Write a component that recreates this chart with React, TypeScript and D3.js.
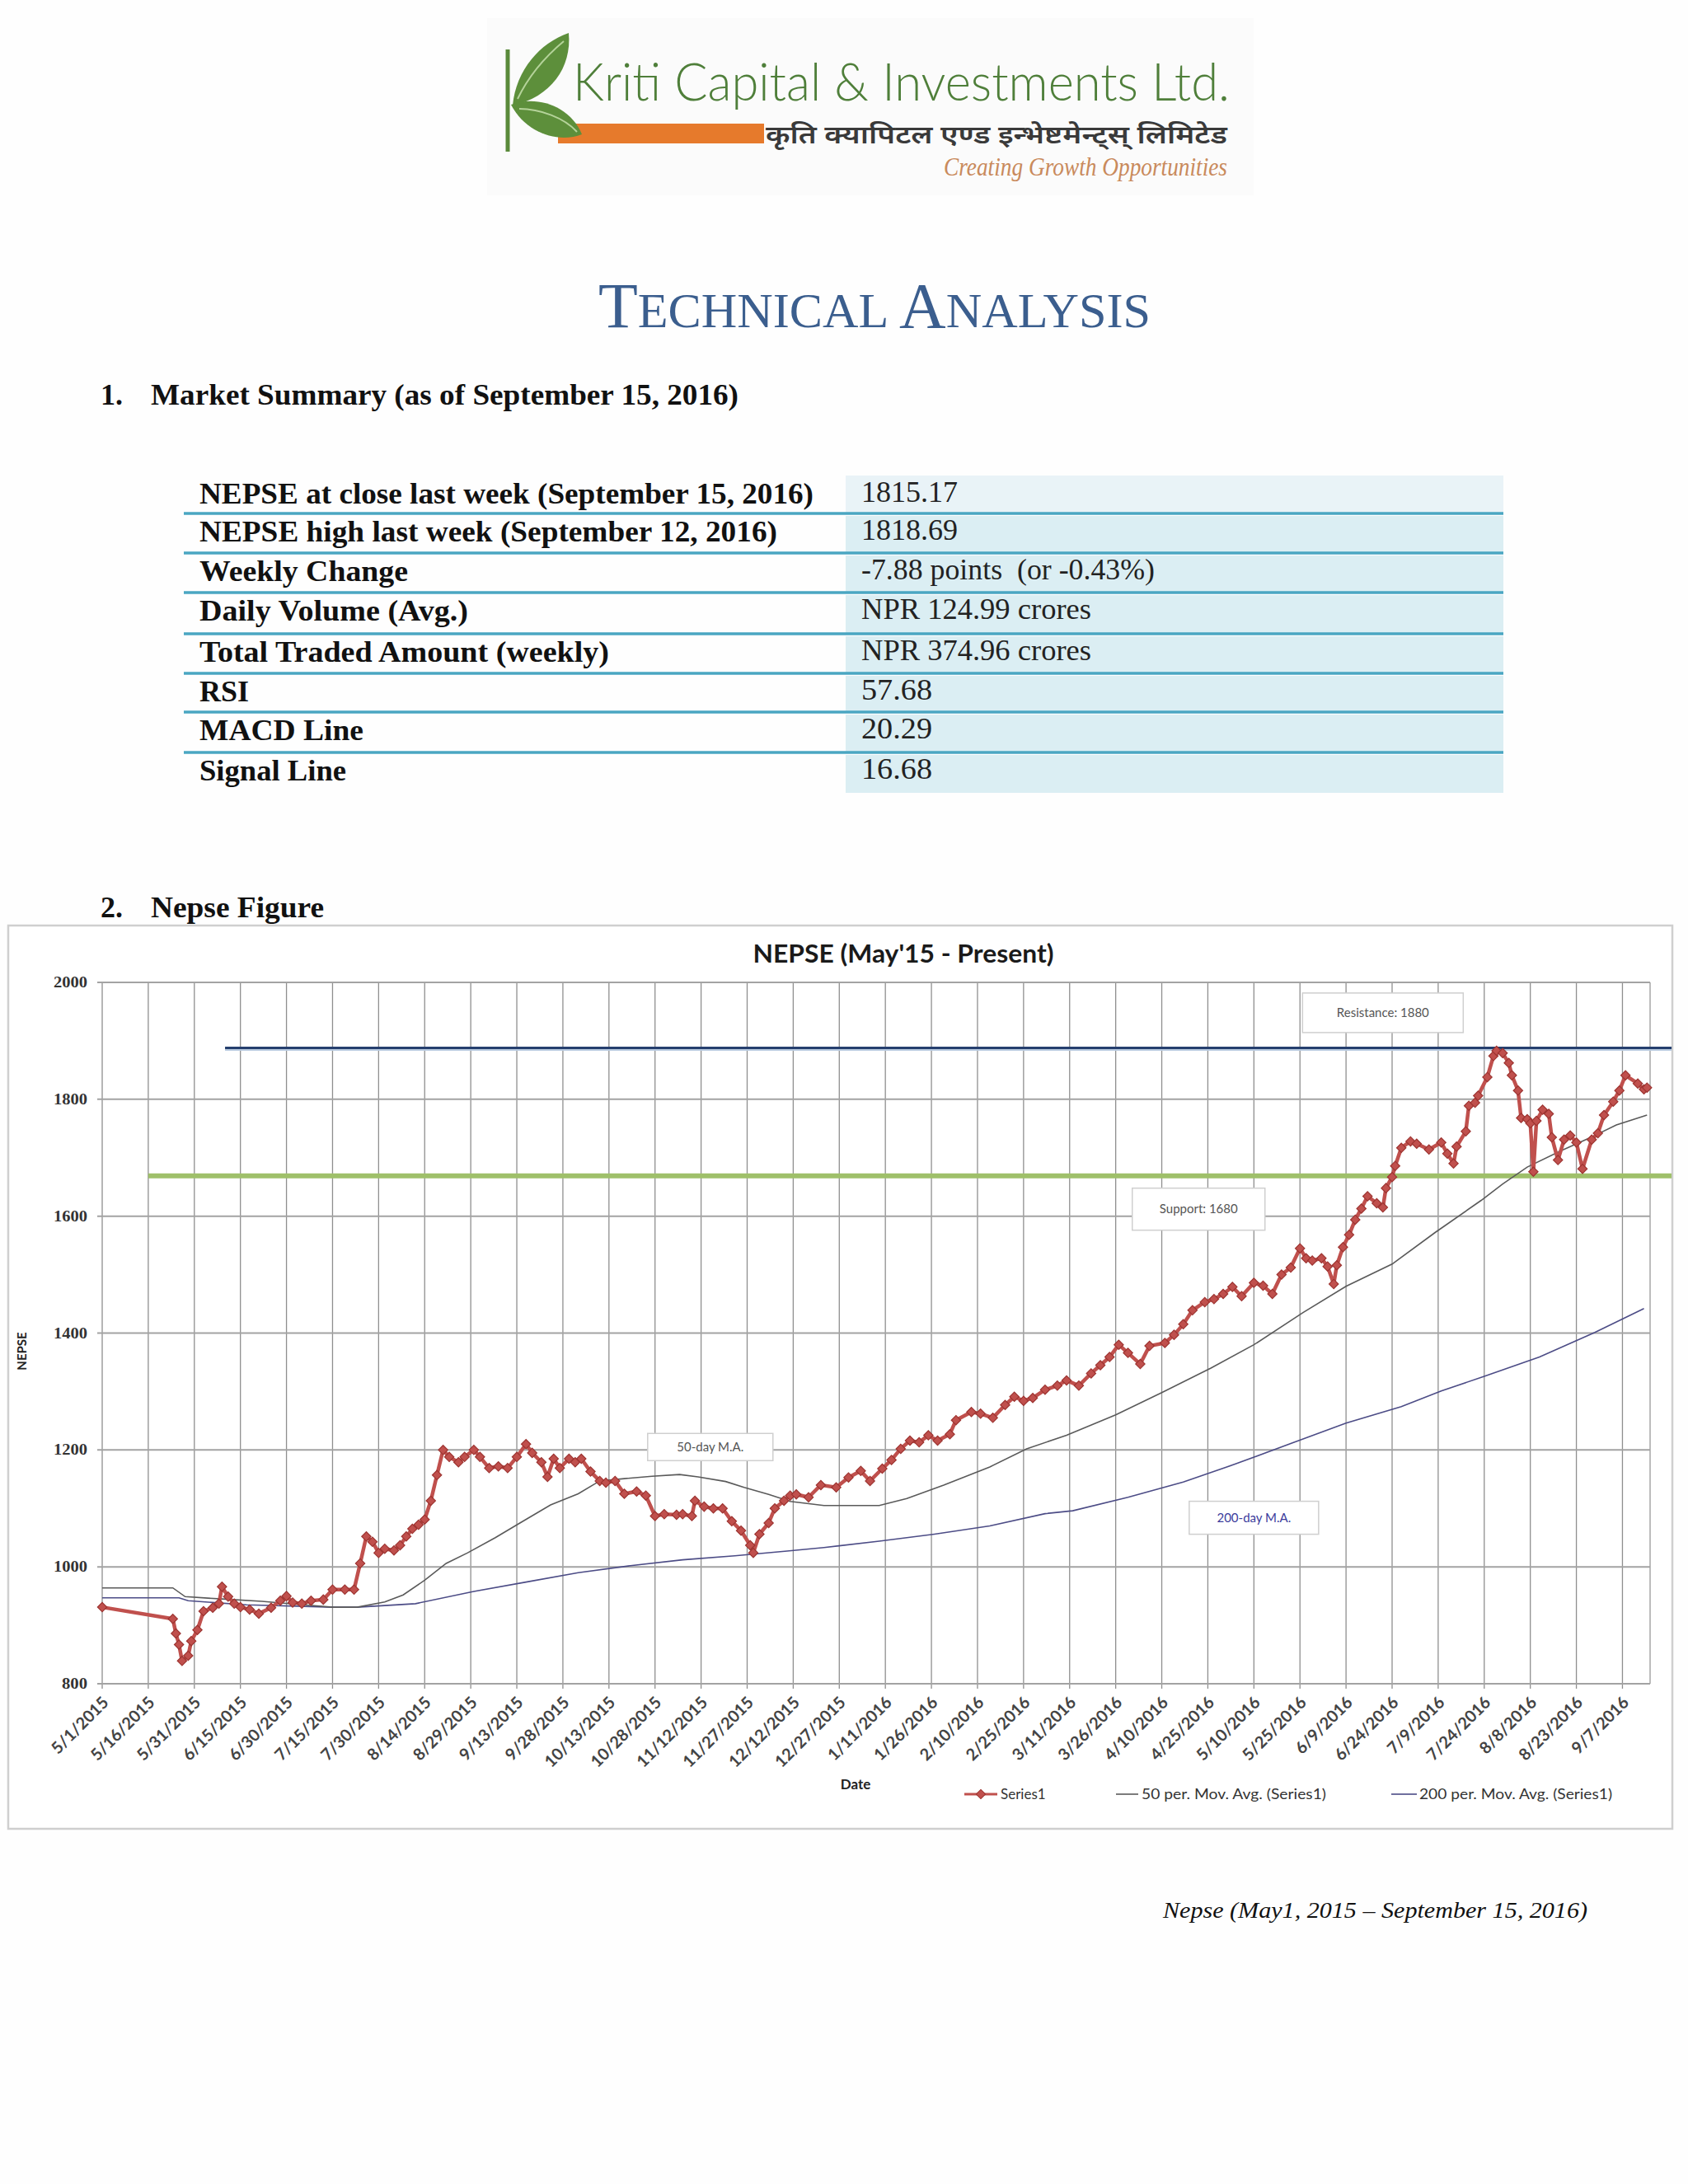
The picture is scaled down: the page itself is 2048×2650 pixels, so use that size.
import React from "react";
import * as d3 from "d3";

// ---------------- DATA ----------------
const startDate = "5/1/2015";
const endDate = "9/16/2016";

// NEPSE daily close (Series1): day offset from 5/1/2015, value
const seriesDays = [0, 23, 24, 25, 26, 28, 29, 31, 33, 36, 38, 39, 41, 43, 45, 48, 51, 55, 58, 60, 62, 65, 68, 72, 75, 79, 82, 84, 86, 88, 90, 92, 95, 97, 99, 101, 103, 105, 107, 109, 111, 113, 116, 118, 121, 123, 126, 129, 132, 135, 138, 140, 143, 145, 147, 149, 152, 154, 156, 159, 162, 164, 167, 170, 174, 177, 180, 183, 187, 189, 192, 193, 196, 199, 202, 205, 208, 211, 212, 214, 217, 219, 222, 224, 226, 230, 234, 239, 243, 247, 250, 254, 257, 260, 263, 266, 269, 272, 276, 278, 283, 286, 290, 294, 297, 300, 303, 307, 311, 314, 318, 322, 325, 328, 331, 334, 338, 341, 346, 349, 352, 355, 359, 362, 365, 368, 371, 375, 378, 381, 384, 387, 390, 392, 394, 397, 399, 401, 402, 404, 406, 408, 410, 412, 415, 417, 418, 420, 421, 423, 426, 428, 432, 436, 438, 440, 441, 444, 445, 447, 448, 451, 453, 454, 456, 458, 459, 461, 462, 464, 465, 466, 467, 469, 471, 472, 474, 476, 478, 480, 482, 485, 487, 489, 492, 494, 496, 500, 502, 503];
const seriesValues = [931, 911, 886, 867, 839, 848, 873, 892, 924, 930, 937, 966, 949, 937, 931, 927, 920, 930, 942, 950, 939, 937, 942, 944, 961, 961, 961, 1006, 1052, 1043, 1024, 1031, 1028, 1037, 1052, 1065, 1072, 1081, 1113, 1157, 1200, 1188, 1179, 1188, 1200, 1188, 1169, 1172, 1169, 1188, 1210, 1195, 1179, 1154, 1185, 1169, 1185, 1179, 1185, 1163, 1147, 1144, 1147, 1125, 1129, 1122, 1087, 1090, 1089, 1090, 1087, 1113, 1103, 1100, 1100, 1078, 1062, 1037, 1024, 1056, 1075, 1100, 1113, 1122, 1124, 1119, 1140, 1136, 1153, 1164, 1147, 1168, 1183, 1202, 1216, 1213, 1225, 1216, 1227, 1251, 1265, 1262, 1255, 1277, 1291, 1284, 1289, 1303, 1310, 1319, 1310, 1331, 1345, 1359, 1380, 1366, 1347, 1378, 1383, 1397, 1415, 1439, 1453, 1458, 1467, 1479, 1463, 1486, 1481, 1467, 1500, 1512, 1545, 1528, 1524, 1528, 1514, 1484, 1516, 1547, 1568, 1594, 1613, 1634, 1622, 1615, 1648, 1667, 1686, 1717, 1728, 1724, 1714, 1726, 1707, 1690, 1719, 1745, 1789, 1794, 1806, 1838, 1874, 1883, 1879, 1862, 1841, 1815, 1768, 1766, 1759, 1676, 1763, 1782, 1775, 1735, 1696, 1731, 1738, 1726, 1681, 1731, 1742, 1773, 1796, 1815, 1841, 1827, 1817, 1820, 1815];

// 50 per. Mov. Avg. (Series1)
const ma50Days = [0, 23, 27, 39, 52, 63, 75, 83, 92, 98, 105, 112, 119, 128, 136, 146, 155, 162, 170, 179, 188, 194, 203, 209, 217, 224, 235, 253, 262, 274, 289, 301, 314, 330, 345, 361, 375, 391, 405, 420, 434, 449, 456, 464, 475, 484, 493, 503];
const ma50Values = [964, 964, 949, 945, 941, 936, 931, 931, 940, 952, 977, 1006, 1024, 1050, 1075, 1106, 1125, 1147, 1151, 1155, 1158, 1154, 1146, 1136, 1124, 1112, 1105, 1105, 1117, 1140, 1171, 1202, 1225, 1260, 1298, 1340, 1380, 1435, 1480, 1518, 1572, 1627, 1655, 1684, 1712, 1733, 1756, 1773];

// 200 per. Mov. Avg. (Series1)
const ma200Days = [0, 25, 28, 47, 75, 83, 102, 121, 138, 155, 172, 189, 206, 223, 235, 253, 271, 289, 307, 316, 334, 352, 369, 387, 405, 423, 436, 450, 468, 486, 502];
const ma200Values = [947, 947, 942, 935, 931, 931, 937, 958, 974, 990, 1002, 1012, 1019, 1027, 1033, 1044, 1056, 1070, 1091, 1096, 1119, 1145, 1176, 1211, 1246, 1274, 1301, 1326, 1359, 1401, 1442];

const xTickLabels = ["5/1/2015", "5/16/2015", "5/31/2015", "6/15/2015", "6/30/2015", "7/15/2015", "7/30/2015", "8/14/2015", "8/29/2015", "9/13/2015", "9/28/2015", "10/13/2015", "10/28/2015", "11/12/2015", "11/27/2015", "12/12/2015", "12/27/2015", "1/11/2016", "1/26/2016", "2/10/2016", "2/25/2016", "3/11/2016", "3/26/2016", "4/10/2016", "4/25/2016", "5/10/2016", "5/25/2016", "6/9/2016", "6/24/2016", "7/9/2016", "7/24/2016", "8/8/2016", "8/23/2016", "9/7/2016"];
const yTicks = [800, 1000, 1200, 1400, 1600, 1800, 2000];

// resistance / support lines (drawn level, start date, end date)
const resistanceLevel = 1888;
const resistanceStart = "6/10/2015";
const supportLevel = 1669;
const supportStart = "5/16/2015";
const levelLineEnd = "9/23/2016";

// annotation boxes: text, center date, center value
const annoTexts = ["Resistance: 1880", "Support: 1680", "50-day M.A.", "200-day M.A."];
const annoDates = ["6/21/2016", "4/22/2016", "11/15/2015", "5/10/2016"];
const annoValues = [1948, 1612, 1205, 1084];
const annoColors = ["#555555", "#555555", "#555555", "#3c3c9c"];

const tableLabels = ["NEPSE at close last week (September 15, 2016)", "NEPSE high last week (September 12, 2016)", "Weekly Change", "Daily Volume (Avg.)", "Total Traded Amount (weekly)", "RSI", "MACD Line", "Signal Line"];
const tableValues = ["1815.17", "1818.69", "-7.88 points  (or -0.43%)", "NPR 124.99 crores", "NPR 374.96 crores", "57.68", "20.29", "16.68"];

// ---------------- LAYOUT ----------------
const W = 2048;
const H = 2650;
const plot = { left: 124, right: 2002, top: 1192, bottom: 2043 };
const frame = { x: 10, y: 1123, w: 2019, h: 1096 };
const RED = "#c0504d";
const SERIF = "'Liberation Serif', 'Times New Roman', serif";
const SANS = "Lato, 'Open Sans', sans-serif";

const parse = d3.timeParse("%m/%d/%Y");

// measured text widths of table labels (layout)
const labelWidths = [745, 701, 253, 326, 497, 60, 199, 178];
const valueWidths = [117, 117, 356, 279, 279, 86, 86, 86];

export default function App() {
  const t0 = parse(startDate)!;
  const x = d3.scaleTime().domain([t0, parse(endDate)!]).range([plot.left, plot.right]);
  const y = d3.scaleLinear().domain([800, 2000]).range([plot.bottom, plot.top]);
  const dayDate = (d: number) => d3.timeDay.offset(t0, d);

  const series = seriesDays.map((d, i) => ({ date: dayDate(d), v: seriesValues[i] }));
  const ma50 = ma50Days.map((d, i) => ({ date: dayDate(d), v: ma50Values[i] }));
  const ma200 = ma200Days.map((d, i) => ({ date: dayDate(d), v: ma200Values[i] }));
  const line = d3.line<{ date: Date; v: number }>().x((d) => x(d.date)).y((d) => y(d.v));
  const diamond = d3.symbol().type(d3.symbolSquare).size(64)()!;
  const ticks = xTickLabels.map((s) => ({ s, date: parse(s)! }));

  const boxW = [195, 161, 152, 157];
  const boxH = [48, 51, 33, 40];

  const rowTop = [577, 623, 671, 719, 769, 817, 864, 913];
  const rowBottom = 962;

  return (
    <svg width={W} height={H} style={{ position: "absolute", left: 0, top: 0, background: "#fff" }}>
      <rect x={0} y={0} width={W} height={H} fill="#fefefe" />

      {/* ---------- Logo ---------- */}
      <g>
        <rect x={591} y={22} width={930} height={215} fill="#fbfbfb" />
        <line x1={616} y1={60} x2={616} y2={184} stroke="#5a8a3b" strokeWidth={5} />
        <path d="M622,128 C626,85 655,52 690,40 C694,82 668,118 622,128 Z" fill="#5d8f3b" />
        <path d="M628,120 C640,95 660,70 684,50" fill="none" stroke="#b5d39a" strokeWidth={2} />
        <rect x={677} y={150} width={250} height={24} fill="#e67a2c" />
        <path d="M620,127 C650,115 692,128 706,163 C678,174 638,162 620,127 Z" fill="#5d8f3b" />
        <path d="M630,132 C655,132 685,143 700,160" fill="none" stroke="#b5d39a" strokeWidth={2} />
        <text x={695} y={122} fontFamily={SANS} fontWeight={300} fontSize={64} fill="#4f7f3a" textLength={797} lengthAdjust="spacingAndGlyphs">
          Kriti Capital &amp; Investments Ltd.
        </text>
        <text x={929} y={174} fontFamily="'Noto Sans', sans-serif" fontSize={30} fontWeight={600} fill="#3a3a3a" textLength={560} lengthAdjust="spacingAndGlyphs">
          कृति क्यापिटल एण्ड इन्भेष्टमेन्ट्स् लिमिटेड
        </text>
        <text x={1145} y={213} fontFamily={SERIF} fontStyle="italic" fontSize={32} fill="#c98a5c" textLength={344} lengthAdjust="spacingAndGlyphs">
          Creating Growth Opportunities
        </text>
      </g>

      {/* ---------- Title ---------- */}
      <text x={726} y={397} fontFamily={SERIF} fill="#3b5e8e" textLength={670} lengthAdjust="spacingAndGlyphs">
        <tspan fontSize={78}>T</tspan>
        <tspan fontSize={60}>ECHNICAL </tspan>
        <tspan fontSize={78}>A</tspan>
        <tspan fontSize={60}>NALYSIS</tspan>
      </text>

      <text x={122} y={491} fontFamily={SERIF} fontWeight="bold" fontSize={36} fill="#111">1.</text>
      <text x={183} y={491} fontFamily={SERIF} fontWeight="bold" fontSize={36} fill="#111" textLength={713} lengthAdjust="spacingAndGlyphs">
        Market Summary (as of September 15, 2016)
      </text>

      {/* ---------- Table ---------- */}
      <g>
        {rowTop.map((t, i) => (
          <rect key={"sh" + i} x={1026} y={t + (i === 0 ? 0 : 3)} width={798} height={(i < rowTop.length - 1 ? rowTop[i + 1] : rowBottom) - t - (i === 0 ? 0 : 3)} fill={i === 0 ? "#e9f3f7" : "#dbeef3"} />
        ))}
        {rowTop.slice(1).map((t, i) => (
          <line key={"sep" + i} x1={223} x2={1824} y1={t} y2={t} stroke="#4aa6c2" strokeWidth={3.5} />
        ))}
        {tableLabels.map((s, i) => (
          <text key={"l" + i} x={242} y={rowTop[i] + 34} fontFamily={SERIF} fontWeight="bold" fontSize={36} fill="#111" textLength={labelWidths[i]} lengthAdjust="spacingAndGlyphs">
            {s}
          </text>
        ))}
        {tableValues.map((s, i) => (
          <text key={"v" + i} x={1045} y={rowTop[i] + 32} fontFamily={SERIF} fontSize={36} fill="#222" textLength={valueWidths[i]} lengthAdjust="spacingAndGlyphs" style={{ whiteSpace: "pre" }}>
            {s}
          </text>
        ))}
      </g>

      <text x={122} y={1113} fontFamily={SERIF} fontWeight="bold" fontSize={36} fill="#111">2.</text>
      <text x={183} y={1113} fontFamily={SERIF} fontWeight="bold" fontSize={36} fill="#111" textLength={210} lengthAdjust="spacingAndGlyphs">Nepse Figure</text>

      {/* ---------- Chart frame ---------- */}
      <rect x={frame.x} y={frame.y} width={frame.w} height={frame.h} fill="#fff" stroke="#cfcfcf" strokeWidth={2.5} />

      <text x={1096} y={1168} textAnchor="middle" fontFamily={SANS} fontWeight="bold" fontSize={30} fill="#1a1a1a" textLength={365} lengthAdjust="spacingAndGlyphs">
        NEPSE (May'15 - Present)
      </text>

      {/* gridlines */}
      {ticks.map((t, i) => (
        <line key={"vg" + i} x1={x(t.date)} x2={x(t.date)} y1={plot.top} y2={plot.bottom + 6} stroke="#8f8f8f" strokeWidth={1.3} />
      ))}
      <line x1={plot.right} x2={plot.right} y1={plot.top} y2={plot.bottom} stroke="#9a9a9a" strokeWidth={1.3} />
      {yTicks.map((v) => (
        <line key={"hg" + v} x1={plot.left - 6} x2={plot.right} y1={y(v)} y2={y(v)} stroke="#a3a3a3" strokeWidth={2} />
      ))}

      {/* y labels */}
      {yTicks.map((v) => (
        <text key={"yl" + v} x={106} y={y(v) + 6} textAnchor="end" fontFamily={SERIF} fontWeight="bold" fontSize={18} fill="#333" textLength={v >= 1000 ? 41 : 31} lengthAdjust="spacingAndGlyphs">
          {v}
        </text>
      ))}
      <text transform={`translate(32,${(plot.top + plot.bottom) / 2 + 22}) rotate(-90)`} textAnchor="middle" fontFamily={SANS} fontWeight="bold" fontSize={15} fill="#222">
        NEPSE
      </text>

      {/* x labels */}
      {ticks.map((t, i) => (
        <text key={"xl" + i} transform={`translate(${x(t.date) + 9},${plot.bottom + 24}) rotate(-45)`} textAnchor="end" fontFamily={SANS} fontWeight="bold" fontSize={20} fill="#444">
          {t.s}
        </text>
      ))}
      <text x={1038} y={2171} textAnchor="middle" fontFamily={SANS} fontWeight="bold" fontSize={17} fill="#222">Date</text>

      {/* support / resistance */}
      <line x1={x(parse(supportStart)!)} x2={x(parse(levelLineEnd)!)} y1={y(supportLevel)} y2={y(supportLevel)} stroke="#9fc06a" strokeWidth={6} />
      <line x1={x(parse(resistanceStart)!)} x2={x(parse(levelLineEnd)!)} y1={y(resistanceLevel) + 2} y2={y(resistanceLevel) + 2} stroke="#b9cbe0" strokeWidth={3} />
      <line x1={x(parse(resistanceStart)!)} x2={x(parse(levelLineEnd)!)} y1={y(resistanceLevel)} y2={y(resistanceLevel)} stroke="#253f6e" strokeWidth={3} />

      {/* moving averages */}
      <path d={line(ma200)!} fill="none" stroke="#4c4c86" strokeWidth={1.6} />
      <path d={line(ma50)!} fill="none" stroke="#5a5a5a" strokeWidth={1.6} />

      {/* series */}
      <path d={line(series)!} fill="none" stroke={RED} strokeWidth={4.5} strokeLinejoin="round" />
      {series.map((d, i) => (
        <path key={"m" + i} d={diamond} transform={`translate(${x(d.date)},${y(d.v)}) rotate(45)`} fill={RED} stroke="#9d3431" strokeWidth={1.2} />
      ))}

      {/* annotation boxes */}
      {annoTexts.map((s, i) => {
        const cx = x(parse(annoDates[i])!);
        const cy = y(annoValues[i]);
        return (
          <g key={"an" + i}>
            <rect x={cx - boxW[i] / 2} y={cy - boxH[i] / 2} width={boxW[i]} height={boxH[i]} fill="#fff" stroke="#cfcfcf" strokeWidth={1.5} />
            <text x={cx} y={cy + 5} textAnchor="middle" fontFamily={SANS} fontSize={15} fill={annoColors[i]}>
              {s}
            </text>
          </g>
        );
      })}

      {/* legend */}
      <g fontFamily={SANS} fontSize={17} fill="#333">
        <line x1={1170} x2={1210} y1={2177} y2={2177} stroke={RED} strokeWidth={3} />
        <path d={diamond} transform="translate(1190,2177) rotate(45)" fill={RED} stroke="#9d3431" />
        <text x={1214} y={2183}>Series1</text>
        <line x1={1354} x2={1381} y1={2177} y2={2177} stroke="#5a5a5a" strokeWidth={1.6} />
        <text x={1385} y={2183} textLength={224} lengthAdjust="spacingAndGlyphs">50 per. Mov. Avg. (Series1)</text>
        <line x1={1688} x2={1719} y1={2177} y2={2177} stroke="#4c4c86" strokeWidth={1.6} />
        <text x={1722} y={2183} textLength={234} lengthAdjust="spacingAndGlyphs">200 per. Mov. Avg. (Series1)</text>
      </g>

      {/* caption */}
      <text x={1411} y={2327} fontFamily={SERIF} fontStyle="italic" fontSize={27} fill="#111" textLength={515} lengthAdjust="spacingAndGlyphs">
        Nepse (May1, 2015 – September 15, 2016)
      </text>
    </svg>
  );
}
